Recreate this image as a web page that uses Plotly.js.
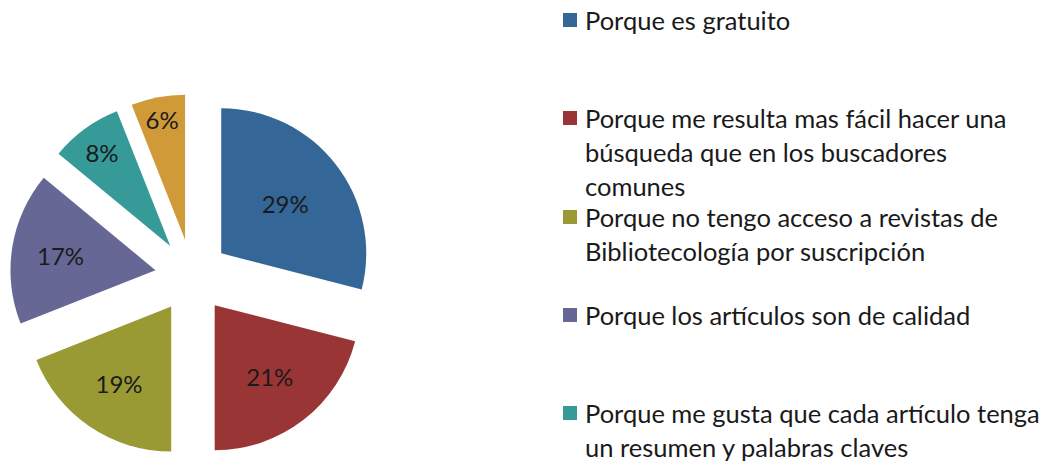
<!DOCTYPE html>
<html>
<head>
<meta charset="utf-8">
<script src="https://cdn.plot.ly/plotly-3.0.1.min.js"></script>
<style>html,body{margin:0;padding:0;background:#fff;}#chart{width:1056px;height:463px;}</style>
</head>
<body>
<div id="chart"></div>
<script>
// Data
const legendLines = [
  ["Porque es gratuito"],
  ["Porque me resulta mas fácil hacer una", "búsqueda que en los buscadores", "comunes"],
  ["Porque no tengo acceso a revistas de", "Bibliotecología por suscripción"],
  ["Porque los artículos son de calidad"],
  ["Porque me gusta que cada artículo tenga", "un resumen y palabras claves"],
  ["Otros"]
];
const labels = legendLines.map(l => l.join(" "));
const values = [29, 21, 19, 17, 8, 6];
const colors = ["#356698", "#9a3535", "#9a9a35", "#676796", "#359a98", "#d09a38"];

const W = 1056, H = 463;
const fontFam = "Lato, 'Open Sans', sans-serif";

const trace = {
  type: "pie",
  labels: labels,
  values: values,
  sort: false,
  direction: "clockwise",
  rotation: 0,
  pull: values.map(() => 0.255),
  marker: {colors: colors, line: {width: 0}},
  texttemplate: "%{percent:.0%}",
  textposition: "inside",
  insidetextorientation: "horizontal",
  textfont: {family: fontFam, size: 24, color: "#1a1a1a"},
  hoverinfo: "label+percent",
  domain: {x: [10 / W, 374 / W], y: [1 - 458 / H, 1 - 94 / H]},
  showlegend: false
};

// Custom legend (first five entries visible as in reference)
const entryTop = [20, 118, 217, 315, 413];
const lineGap = 34;
const shapes = [];
const annotations = [];
entryTop.forEach((y0, i) => {
  shapes.push({
    type: "rect", xref: "paper", yref: "paper",
    x0: 563 / W, x1: 577 / W, y0: 1 - (y0 + 7) / H, y1: 1 - (y0 - 7) / H,
    fillcolor: colors[i], line: {width: 0}
  });
  legendLines[i].forEach((txt, j) => {
    annotations.push({
      xref: "paper", yref: "paper", x: 583 / W, y: 1 - (y0 + j * lineGap) / H,
      xanchor: "left", yanchor: "middle", showarrow: false, text: txt,
      font: {family: fontFam, size: 25.5, color: "#1a1a1a"}
    });
  });
});

const layout = {
  width: W, height: H,
  margin: {l: 0, r: 0, t: 0, b: 0},
  paper_bgcolor: "#ffffff",
  showlegend: false,
  shapes: shapes,
  annotations: annotations
};

Plotly.newPlot("chart", [trace], layout, {displayModeBar: false, staticPlot: true});
</script>
</body>
</html>
